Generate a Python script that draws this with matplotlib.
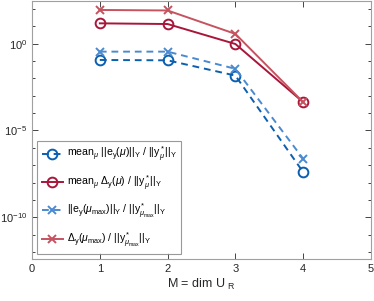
import numpy as np
import matplotlib.pyplot as plt
from matplotlib.ticker import FixedLocator, NullFormatter

plt.rcParams['font.family'] = ['Liberation Sans', 'DejaVu Sans']
plt.rcParams['mathtext.fontset'] = 'custom'
plt.rcParams['mathtext.rm'] = 'Liberation Sans'
plt.rcParams['mathtext.it'] = 'Liberation Sans:italic'
plt.rcParams['mathtext.default'] = 'regular'

# -------- datos (log10) --------
M = [1, 2, 3, 4]
mean_err = [-0.94, -0.96, -1.84, -7.40]
mean_est = [1.17, 1.13, -0.02, -3.37]
max_err = [-0.46, -0.46, -1.45, -6.63]
max_est = [1.94, 1.91, 0.56, -3.37]

c_azul = '#0a5fb0'
c_azul2 = '#4a8ad0'
c_rojo = '#a8163a'
c_rojo2 = '#c65360'

fig = plt.figure(figsize=(3.74, 3.01), dpi=100)
ax = fig.add_axes([0.0856, 0.1395, 0.9064, 0.858])

mu = r'\mathit{\mu}'
ax.semilogy(M, 10**np.array(mean_err), color=c_azul, linestyle='--', marker='o',
            markersize=7, markerfacecolor='none', markeredgewidth=1.4, linewidth=1.4,
            dashes=(3.5, 2.5),
            label=rf'mean$_{mu}$ ||e$_y$(${mu}$)||$_Y$ / ||y$^*_{mu}$||$_Y$')
ax.semilogy(M, 10**np.array(mean_est), color=c_rojo, linestyle='-', marker='o',
            markersize=7, markerfacecolor='none', markeredgewidth=1.4, linewidth=1.4,
            label=rf'mean$_{mu}$ $\Delta_y$(${mu}$) / ||y$^*_{mu}$||$_Y$')
ax.semilogy(M, 10**np.array(max_err), color=c_azul2, linestyle='--', marker='x',
            markersize=6, markeredgewidth=1.4, linewidth=1.4,
            dashes=(3.5, 2.5),
            label=rf'||e$_y$(${mu}_{{max}}$)||$_Y$ / ||y$^*_{{{mu}_{{max}}}}$||$_Y$')
ax.semilogy(M, 10**np.array(max_est), color=c_rojo2, linestyle='-', marker='x',
            markersize=6, markeredgewidth=1.4, linewidth=1.4,
            label=rf'$\Delta_y$(${mu}_{{max}}$) / ||y$^*_{{{mu}_{{max}}}}$||$_Y$')

ax.set_xlim(0, 5)
ax.set_ylim(10**-12.4, 10**2.47)
ax.set_xticks([0, 1, 2, 3, 4, 5])
ax.yaxis.set_major_locator(FixedLocator([1e0, 1e-5, 1e-10]))
ax.yaxis.set_minor_locator(FixedLocator([10.0**k for k in range(-12, 3)]))
ax.yaxis.set_minor_formatter(NullFormatter())

ax.tick_params(which='both', direction='in', top=True, right=True,
               labelsize=8, colors='#262626')
ax.tick_params(which='major', length=4, width=0.6)
ax.tick_params(which='minor', length=2.5, width=0.6)
for s in ax.spines.values():
    s.set_color('#a0a0a0')
    s.set_linewidth(0.8)

ax.set_xlabel(r'M = dim U $_R$', fontsize=9, color='#262626', labelpad=2)

leg = ax.legend(loc='lower left', fontsize=7.6, frameon=True, fancybox=False,
                edgecolor='#808080', handlelength=2.0, handletextpad=0.4,
                borderaxespad=0.5, labelspacing=0.85, borderpad=0.4)
leg.get_frame().set_linewidth(0.8)

fig.savefig('out.png', dpi=100)
